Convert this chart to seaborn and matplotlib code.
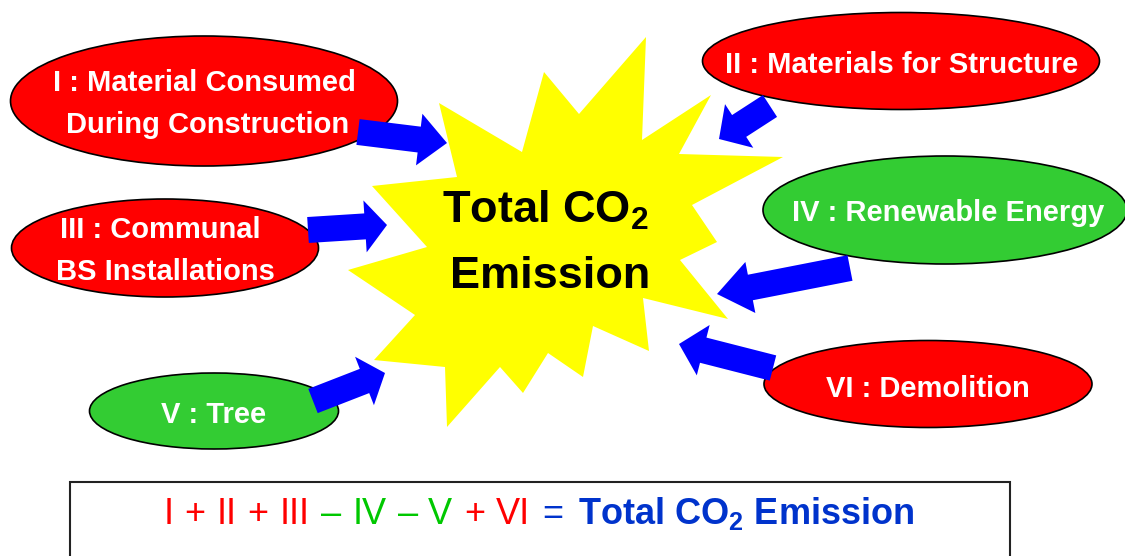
import seaborn as sns
import matplotlib.pyplot as plt
from matplotlib.patches import Ellipse, Polygon, FancyArrow, Rectangle

# --- data -------------------------------------------------------------
labels = [
    ["I : Material Consumed", "During Construction"],
    ["II : Materials for Structure"],
    ["III : Communal", "BS Installations"],
    ["IV : Renewable Energy"],
    ["V : Tree"],
    ["VI : Demolition"],
]
signs = [+1, +1, +1, -1, -1, +1]          # + adds CO2, - removes it
numerals = ["I", "II", "III", "IV", "V", "VI"]
center_title = ["Total CO$_{\\mathbf{2}}$", "Emission"]
formula_rhs = "Total CO$_{\\mathbf{2}}$ Emission"

# --- layout (pixel coords) --------------------------------------------
ell_xy = [(204, 101), (901, 61), (165, 248), (945, 210), (214, 411), (928, 384)]
ell_wh = [(387, 130), (397, 97), (307, 98), (364, 108), (249, 76), (328, 87)]
txt_x = [[204, 208], [902], [160, 165], [948], [214], [928]]
txt_base = [[91, 133], [73], [238, 280], [221], [423], [397]]
arrow_tail = [(358, 132), (770, 106), (308, 230), (850, 268), (313, 401), (773, 368)]
arrow_tip = [(447, 143), (719, 139), (387, 225), (717, 294), (385, 373), (679, 344)]
arrow_head_len = [28, 24, 22, 34, 22, 25]

star = [(646, 37), (642, 140), (711, 95), (679, 154), (783, 157), (692, 205),
        (717, 242), (680, 260), (728, 319), (643, 298), (649, 351), (593, 326),
        (583, 377), (548, 353), (523, 393), (500, 367), (447, 427), (445, 367),
        (374, 360), (415, 315), (348, 270), (427, 247), (372, 186), (457, 177),
        (439, 103), (522, 152), (544, 72), (579, 114)]

# formula tokens: (text, x-centre, colour)
RED, GREEN, BLUE = "#ff0000", "#00c800", "#0033cc"
tokens = [("I", 169, RED), ("+", 195, RED), ("II", 227, RED), ("+", 258, RED),
          ("III", 295, RED), ("\u2013", 331, GREEN), ("IV", 370, GREEN),
          ("\u2013", 408, GREEN), ("V", 440, GREEN), ("+", 475, RED),
          ("VI", 513, RED), ("=", 553, BLUE)]

# --- drawing ----------------------------------------------------------
sns.set_theme(style="white")
plt.rcParams["font.family"] = ["Liberation Sans", "DejaVu Sans"]
plt.rcParams["mathtext.fontset"] = "custom"
plt.rcParams["mathtext.rm"] = "Liberation Sans"
plt.rcParams["mathtext.bf"] = "Liberation Sans:bold"

fig = plt.figure(figsize=(11.25, 5.56), dpi=100)
ax = fig.add_axes([0, 0, 1, 1])
ax.set_xlim(0, 1125)
ax.set_ylim(556, 0)
ax.axis("off")

ax.add_patch(Polygon(star, closed=True, facecolor="#ffff00", edgecolor="none", zorder=1))
ax.text(545, 223, center_title[0], fontsize=32.5, fontweight="bold", ha="center",
        va="baseline", color="black", zorder=5)
ax.text(550, 288, center_title[1], fontsize=32.5, fontweight="bold", ha="center",
        va="baseline", color="black", zorder=5)

for i, lines in enumerate(labels):
    fill = "#ff0000" if signs[i] > 0 else "#33cc33"
    ax.add_patch(Ellipse(ell_xy[i], ell_wh[i][0], ell_wh[i][1], facecolor=fill,
                         edgecolor="black", linewidth=1.2, zorder=2))
    for j, line in enumerate(lines):
        ax.text(txt_x[i][j], txt_base[i][j], line, fontsize=21, fontweight="bold",
                color="white", ha="center", va="baseline", zorder=4)
    (x0, y0), (x1, y1) = arrow_tail[i], arrow_tip[i]
    ax.add_patch(FancyArrow(x0, y0, x1 - x0, y1 - y0, width=26, head_width=52,
                            head_length=arrow_head_len[i], length_includes_head=True,
                            facecolor="#0000ff", edgecolor="none", zorder=3))

# formula box
ax.add_patch(Rectangle((70, 482), 940, 90, facecolor="white", edgecolor="#222222",
                       linewidth=1.5, zorder=1))
for t, x, c in tokens:
    ax.text(x, 524, t, fontsize=26, color=c, ha="center", va="baseline", zorder=5)
ax.text(578, 524, formula_rhs, fontsize=26, fontweight="bold", color=BLUE,
        ha="left", va="baseline", zorder=5)

fig.savefig("out.png", dpi=100)
